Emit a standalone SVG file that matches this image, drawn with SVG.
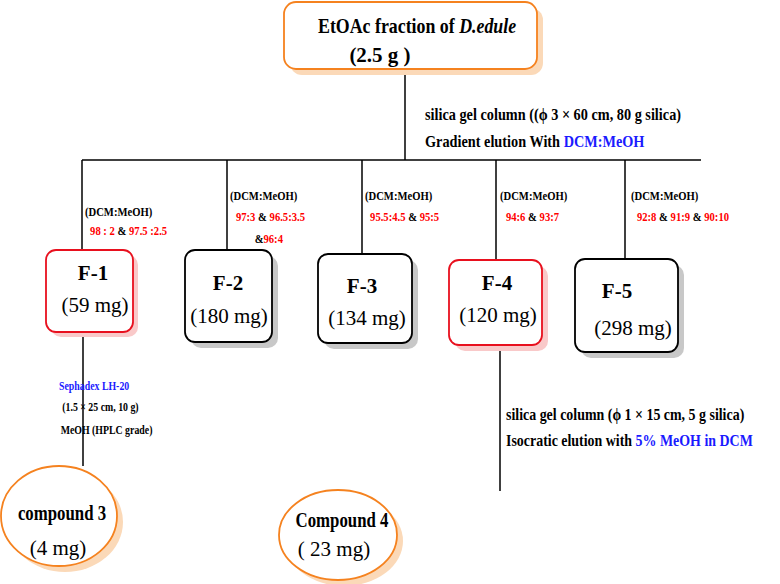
<svg xmlns="http://www.w3.org/2000/svg" width="780" height="584" viewBox="0 0 780 584" font-family="Liberation Serif, serif">
<style>
text{font-family:'Liberation Serif',serif;fill:#000}
.b{font-weight:bold}
.r{fill:#ff0000}
.bl{fill:#1a1aff}
.h{font-size:21px}
.m{font-size:17px;font-weight:bold}
.s{font-size:12.5px;font-weight:bold}
.box{fill:#fff;stroke-width:1.8}
line{stroke:#000;stroke-width:1.5}
</style>
<g id="connectors">
<line x1="405" y1="69" x2="405" y2="160"/>
<line x1="82" y1="160" x2="701" y2="160"/>
<line x1="82" y1="160" x2="82" y2="250"/>
<line x1="227" y1="160" x2="227" y2="250"/>
<line x1="362" y1="160" x2="362" y2="254"/>
<line x1="496" y1="160" x2="496" y2="260"/>
<line x1="625" y1="160" x2="625" y2="259"/>
<line x1="83" y1="332" x2="83" y2="466"/>
<line x1="500" y1="345" x2="500" y2="491"/>
</g>
<g id="top">
<rect x="290" y="8" width="253" height="67" rx="12" fill="#fbd9b8"/>
<rect x="284" y="2" width="253" height="67" rx="12" class="box" stroke="#f5821f"/>
<g transform="translate(318,0) scale(0.85,1)"><text x="0" y="33" class="h b">EtOAc fraction of <tspan font-style="italic">D.edule</tspan></text></g>
<text x="380" y="62" class="h b" text-anchor="middle">(2.5 g )</text>
</g>
<g transform="translate(425,0) scale(0.84,1)">
<text x="0" y="120" class="m">silica gel column ((ϕ 3 × 60 cm, 80 g silica)</text>
<text x="0" y="147" class="m">Gradient elution With <tspan class="bl">DCM:MeOH</tspan></text>
</g>
<g transform="translate(85,0) scale(0.85,1)"><text x="0" y="216" class="s">(DCM:MeOH)</text>
<text x="6" y="235" class="s"><tspan class="r">98  : 2</tspan>  &amp;  <tspan class="r">97.5 :2.5</tspan></text></g>
<g transform="translate(230,0) scale(0.85,1)"><text x="0" y="200" class="s">(DCM:MeOH)</text>
<text x="7" y="221" class="s"><tspan class="r">97:3</tspan> &amp; <tspan class="r">96.5:3.5</tspan></text>
<text x="29" y="243" class="s">&amp;<tspan class="r">96:4</tspan></text></g>
<g transform="translate(365,0) scale(0.85,1)"><text x="0" y="200" class="s">(DCM:MeOH)</text>
<text x="6" y="221" class="s"><tspan class="r">95.5:4.5</tspan> &amp;  <tspan class="r">95:5</tspan></text></g>
<g transform="translate(500,0) scale(0.85,1)"><text x="0" y="200" class="s">(DCM:MeOH)</text>
<text x="7" y="221" class="s"><tspan class="r">94:6</tspan> &amp; <tspan class="r">93:7</tspan></text></g>
<g transform="translate(631,0) scale(0.85,1)"><text x="0" y="200" class="s">(DCM:MeOH)</text>
<text x="7" y="221" class="s"><tspan class="r">92:8</tspan> &amp;  <tspan class="r">91:9</tspan> &amp; <tspan class="r">90:10</tspan></text></g>
<g id="F1">
<rect x="51" y="255" width="87" height="82" rx="10" fill="#f9c9c9"/>
<rect x="46" y="250" width="87" height="82" rx="10" class="box" stroke="#e8101e"/>
<text x="93" y="280" class="h b" text-anchor="middle">F-1</text>
<text x="95" y="312" class="h" text-anchor="middle">(59 mg)</text>
</g>
<g id="F2">
<rect x="191" y="256" width="87" height="92" rx="10" fill="#c8c8c8"/>
<rect x="185" y="250" width="87" height="92" rx="10" class="box" stroke="#000"/>
<text x="228" y="290" class="h b" text-anchor="middle">F-2</text>
<text x="229" y="323" class="h" text-anchor="middle">(180  mg)</text>
</g>
<g id="F3">
<rect x="324" y="260" width="94" height="89" rx="10" fill="#c8c8c8"/>
<rect x="318" y="254" width="94" height="89" rx="10" class="box" stroke="#000"/>
<text x="362" y="293" class="h b" text-anchor="middle">F-3</text>
<text x="367" y="325" class="h" text-anchor="middle">(134  mg)</text>
</g>
<g id="F4">
<rect x="455" y="266" width="93" height="85" rx="10" fill="#f9c9c9"/>
<rect x="449" y="260" width="93" height="85" rx="10" class="box" stroke="#e8101e"/>
<text x="497" y="290" class="h b" text-anchor="middle">F-4</text>
<text x="498" y="322" class="h" text-anchor="middle">(120 mg)</text>
</g>
<g id="F5">
<rect x="581" y="265" width="103" height="93" rx="10" fill="#c8c8c8"/>
<rect x="575" y="259" width="103" height="93" rx="10" class="box" stroke="#000"/>
<text x="617" y="298" class="h b" text-anchor="middle">F-5</text>
<text x="633" y="335" class="h" text-anchor="middle">(298 mg)</text>
</g>
<g transform="translate(59,0) scale(0.82,1)">
<text x="0" y="390" font-size="12" class="b bl">Sephadex LH-20</text>
<text x="4" y="411" font-size="12" class="b">(1.5 × 25 cm, 10 g)</text>
<text x="2" y="434" font-size="12" class="b">MeOH (HPLC grade)</text>
</g>
<g transform="translate(506,0) scale(0.82,1)">
<text x="0" y="420" class="m">silica gel column (ϕ 1 × 15 cm, 5 g silica)</text>
<text x="0" y="446" class="m">Isocratic elution with <tspan class="bl">5% MeOH in DCM</tspan></text>
</g>
<g id="compound3">
<ellipse cx="65" cy="522" rx="58" ry="50" fill="#fbd9b8"/>
<ellipse cx="59" cy="516" rx="58" ry="50" class="box" stroke="#f5821f"/>
<g transform="translate(62,0) scale(0.8,1)"><text x="0" y="520" class="h b" text-anchor="middle">compound 3</text></g>
<text x="58" y="555" class="h" text-anchor="middle">(4 mg)</text>
</g>
<g id="compound4">
<ellipse cx="344" cy="541" rx="59" ry="45" fill="#fbd9b8"/>
<ellipse cx="338" cy="535" rx="59" ry="45" class="box" stroke="#f5821f"/>
<g transform="translate(342,0) scale(0.8,1)"><text x="0" y="527" class="h b" text-anchor="middle">Compound 4</text></g>
<text x="334" y="556" class="h" text-anchor="middle">( 23  mg)</text>
</g>
</svg>
